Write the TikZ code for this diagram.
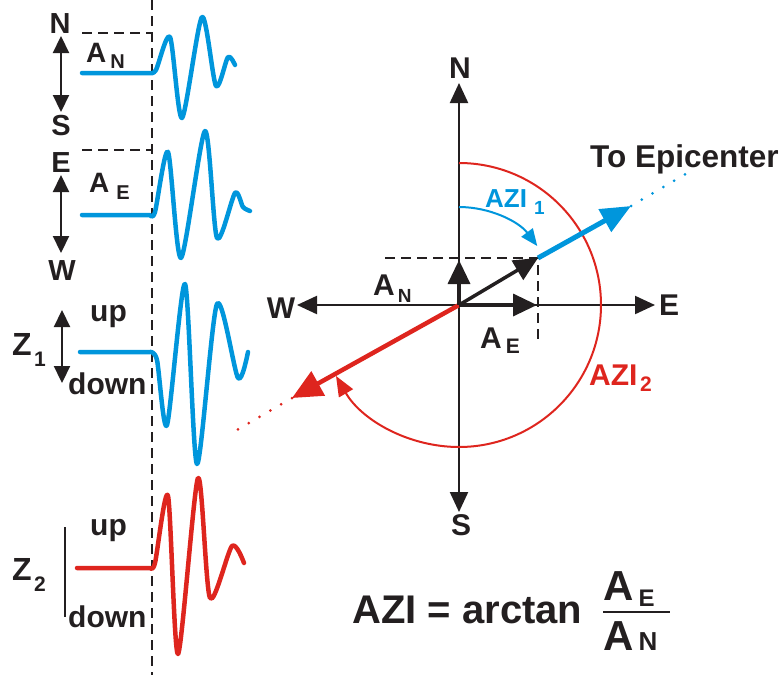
\documentclass[tikz,border=0pt]{standalone}
\usepackage{fontspec}
\setmainfont{Liberation Sans}
\usetikzlibrary{arrows.meta}
\definecolor{cblue}{RGB}{0,150,220}
\definecolor{cred}{RGB}{222,37,30}
\definecolor{cblk}{RGB}{35,31,32}
\newcommand\myfs[1]{\fontsize{#1}{#1}\selectfont}
\begin{document}
\begin{tikzpicture}[x=1pt,y=-1pt,
  lbl/.style={text=cblk, inner sep=0pt, font=\bfseries\myfs{#1}},
  lbl/.default=29,
  wave/.style={line width=4.5pt, line join=round, line cap=round},
  dashln/.style={cblk, line width=1.7pt, dash pattern=on 10pt off 6pt},
  dbl/.style={cblk, line width=2.2pt, {Triangle[length=17pt,width=16pt]}-{Triangle[length=17pt,width=16pt]}},
  axis/.style={cblk, line width=2.2pt, -{Triangle[length=20pt,width=18pt]}},
  comp/.style={cblk, line width=3.5pt, -{Triangle[length=24pt,width=22pt]}},
  dotln/.style={line width=3pt, line cap=round, dash pattern=on 0pt off 12.5pt}
]
\useasboundingbox (0,0) rectangle (782,675);

% ---------- left: time line and dashed guides ----------
\coordinate (t0) at (152,0);
\coordinate (t1) at (152,675);
\draw[dashln] (t0) -- (t1);
\coordinate (dn1) at (82,33);
\coordinate (dn2) at (152,33);
\draw[dashln] (dn1) -- (dn2);
\coordinate (de1) at (82,150);
\coordinate (de2) at (152,150);
\draw[dashln] (de1) -- (de2);

% N-S component
\node[lbl, anchor=base] (lN) at (60,33) {N};
\node[lbl, anchor=base] (lS) at (61,135) {S};
\coordinate (ns1) at (61,36);
\coordinate (ns2) at (61,112);
\draw[dbl] (ns1) -- (ns2);
\node[lbl=28, anchor=base west] (lAN) at (86,62) {A\hspace{4pt}\raisebox{-6pt}{\myfs{20}N}};
\draw[wave, cblue] (82,73) -- plot[smooth, tension=0.45] coordinates
  {(150,73) (156,70) (170,37) (182,118) (202,17) (216,86) (228,57) (235,65)};

% E-W component
\node[lbl, anchor=base] (lE) at (61,172) {E};
\node[lbl, anchor=base] (lW) at (62,280) {W};
\coordinate (ew1) at (61,175);
\coordinate (ew2) at (61,253);
\draw[dbl] (ew1) -- (ew2);
\node[lbl=28, anchor=base west] (lAE) at (89,192) {A\hspace{7pt}\raisebox{-7pt}{\myfs{20}E}};
\draw[wave, cblue] (82,215) -- plot[smooth, tension=0.45] coordinates
  {(150,215) (155,212) (168,152) (181,258) (205,131) (217,238) (235,193) (243,207) (250,211)};

% Z1 component
\node[lbl=32, anchor=base west] (lZ1) at (12,355) {Z};
\node[lbl=21, anchor=base west] (lZ1s) at (34,366) {1};
\coordinate (z1a) at (62,310);
\coordinate (z1b) at (62,383);
\draw[dbl] (z1a) -- (z1b);
\node[lbl=30, anchor=base west] (up1) at (90,321) {up};
\node[lbl=30, anchor=base west] (dn1l) at (68,394) {down};
\draw[wave, cblue] (80,352) -- plot[smooth, tension=0.45] coordinates
  {(150,352) (157,360) (167,425) (185,284) (197,464) (217,304) (238,378) (248,352)};

% Z2 component
\node[lbl=32, anchor=base west] (lZ2) at (12,580) {Z};
\node[lbl=21, anchor=base west] (lZ2s) at (34,591) {2};
\coordinate (z2a) at (65,527);
\coordinate (z2b) at (65,617);
\draw[cblk, line width=2.2pt] (z2a) -- (z2b);
\node[lbl=30, anchor=base west] (up2) at (90,535) {up};
\node[lbl=30, anchor=base west] (dn2l) at (68,627) {down};
\draw[wave, cred] (77,568) -- plot[smooth, tension=0.45] coordinates
  {(150,568) (155,563) (168,496) (178,654) (198,478) (210,598) (232,546) (244,563)};

% ---------- compass ----------
\coordinate (O) at (459,305);
\node[lbl=30, anchor=base] (cN) at (460,78) {N};
\node[lbl=30, anchor=base] (cS) at (461,535) {S};
\node[lbl=30, anchor=base] (cW) at (281,318) {W};
\node[lbl=30, anchor=base] (cE) at (669,315) {E};
\coordinate (tN) at (459,83);
\coordinate (tS) at (459,512);
\coordinate (tW) at (297,305);
\coordinate (tE) at (655,305);
\draw[axis] (O) -- (tN);
\draw[axis] (O) -- (tS);
\draw[axis] (O) -- (tW);
\draw[axis] (O) -- (tE);

% red circle arc AZI2
\draw[cred, line width=2pt, -{Triangle[length=20pt,width=16pt]}]
  ([shift={(-90:142)}]O) arc[start angle=-90, end angle=150, radius=142];
% blue arc AZI1
\draw[cblue, line width=2pt, -{Triangle[length=17pt,width=14pt]}]
  ([shift={(-90:98)}]O) arc[start angle=-90, end angle=-37, radius=98];

% dashed projection lines
\coordinate (P) at (538,258);
\coordinate (ph) at (385,258);
\coordinate (pv) at (538,342);
\draw[dashln] (ph) -- (P) -- (pv);

% blue direction to epicenter
\coordinate (bT) at (631,206);
\coordinate (bD) at (694,169);
\draw[cblue, line width=5pt, -{Triangle[length=30pt,width=25pt]}] (P) -- (bT);
\draw[cblue, dotln] (bT) -- (bD);

% red back-azimuth direction
\coordinate (rT) at (292,398);
\coordinate (rD) at (237,430);
\draw[cred, line width=4.5pt, -{Triangle[length=30pt,width=27pt]}] (O) -- (rT);
\draw[cred, dotln] (rT) -- (rD);

% component vectors
\coordinate (aN) at (459,260);
\coordinate (aE) at (537,305);
\draw[comp] (O) -- (aN);
\draw[comp] (O) -- (aE);
\draw[comp] (O) -- (P);

% compass labels
\node[lbl=30, anchor=base west] (cAN) at (373,295) {A\hspace{3pt}\raisebox{-7pt}{\myfs{19}N}};
\node[lbl=30, anchor=base west] (cAE) at (480,348) {A\hspace{4pt}\raisebox{-5pt}{\myfs{21}E}};
\node[lbl=26, text=cblue, anchor=base west] (azi1) at (485,207) {AZI};
\node[lbl=19, text=cblue, anchor=base west] (azi1s) at (534,214) {1};
\node[lbl=30, text=cred, anchor=base west] (azi2) at (589,385) {AZI};
\node[lbl=21, text=cred, anchor=base west] (azi2s) at (640,391) {2};
\node[lbl=31.5, anchor=base west] (epi) at (590,167) {To Epicenter};

% ---------- formula ----------
\node[lbl=40, anchor=base west] (fAZI) at (352,623) {AZI = arctan};
\coordinate (fb1) at (603,612);
\coordinate (fb2) at (670,612);
\draw[cblk, line width=2pt] (fb1) -- (fb2);
\node[lbl=42, anchor=base west] (fNum) at (603,600) {A\hspace{5pt}\raisebox{-6pt}{\myfs{24}E}};
\node[lbl=42, anchor=base west] (fDen) at (603,650) {A\hspace{5pt}{\myfs{26}N}};
\end{tikzpicture}
\end{document}
